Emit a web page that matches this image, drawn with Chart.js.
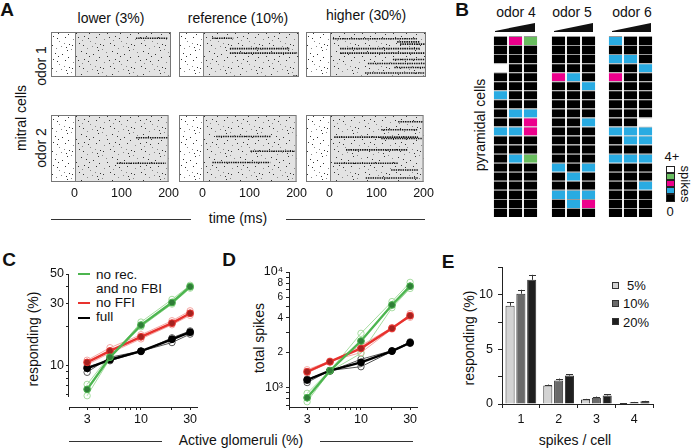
<!DOCTYPE html>
<html>
<head>
<meta charset="utf-8">
<script src="https://cdn.jsdelivr.net/npm/chart.js@4.4.1/dist/chart.umd.min.js"></script>
<style>
  body { margin: 0; background: #fff; }
  #fig { position: relative; width: 691px; height: 448px; overflow: hidden;
         font-family: 'Liberation Sans', Arial, sans-serif; color: #111; }
  canvas { position: absolute; }
  .t { position: absolute; white-space: nowrap; line-height: 1; transform: translate(-50%, -50%); }
  .l { position: absolute; white-space: nowrap; line-height: 1; transform: translate(0, -50%); }
  .up { transform: translate(-50%, -50%) rotate(-90deg); }
  .down { transform: translate(-50%, -50%) rotate(90deg); }
  .big { font-weight: bold; font-size: 19px; }
  .rule { position: absolute; height: 1px; background: #333; }
  .wedge { position: absolute; height: 9px; background: #111; clip-path: polygon(0 88%, 100% 0, 100% 100%, 0 100%); }
  .key { position: absolute; width: 7px; height: 7px; border: 1px solid #333; box-sizing: border-box; }
  .bar { position: absolute; width: 9px; height: 7px; box-sizing: border-box; border: 1px solid #222; }
</style>
</head>
<body>
<div id="fig">
  <!-- panel A -->
  <div class="t big" style="left:7px;top:9px">A</div>
  <div class="t" style="left:111px;top:18px;font-size:14px">lower (3%)</div>
  <div class="t" style="left:238px;top:18px;font-size:14px">reference (10%)</div>
  <div class="t" style="left:366px;top:15px;font-size:14px">higher (30%)</div>
  <div class="t up" style="left:21px;top:118px;font-size:14px">mitral cells</div>
  <div class="t up" style="left:41px;top:66px;font-size:14px">odor 1</div>
  <div class="t up" style="left:41px;top:148px;font-size:14px">odor 2</div>
  <div class="t" style="left:238px;top:218px;font-size:14px">time (ms)</div>
  <div class="rule" style="left:51px;top:219px;width:140px"></div>
  <div class="rule" style="left:286px;top:219px;width:139px"></div>

  <!-- panel B -->
  <div class="t big" style="left:462px;top:9px">B</div>
  <div class="t" style="left:516px;top:12px;font-size:14px">odor 4</div>
  <div class="t" style="left:572px;top:12px;font-size:14px">odor 5</div>
  <div class="t" style="left:632px;top:12px;font-size:14px">odor 6</div>
  <div class="wedge" style="left:495px;top:23px;width:40px"></div>
  <div class="wedge" style="left:554px;top:23px;width:39px"></div>
  <div class="wedge" style="left:612px;top:23px;width:39px"></div>
  <div class="t up" style="left:480px;top:125px;font-size:14px">pyramidal cells</div>
  <div class="t" style="left:672px;top:156px;font-size:13px">4+</div>
  <div class="t" style="left:670px;top:211px;font-size:13px">0</div>
  <div class="t down" style="left:685px;top:184px;font-size:13px">spikes</div>
  <div class="bar" style="left:666px;top:166px;background:#fff"></div>
  <div class="bar" style="left:666px;top:173px;background:#69bd5f"></div>
  <div class="bar" style="left:666px;top:180px;background:#ec008c"></div>
  <div class="bar" style="left:666px;top:187px;background:#29abe2"></div>
  <div class="bar" style="left:666px;top:194px;height:8px;background:#000"></div>

  <!-- panel C -->
  <div class="t big" style="left:9px;top:259px">C</div>
  <div class="t up" style="left:33px;top:339px;font-size:14px">responding (%)</div>
  <div class="rule" style="left:78px;top:273px;width:12px;height:2px;background:#4cb54f"></div>
  <div class="l" style="left:96px;top:275px;font-size:13.5px">no rec.</div>
  <div class="l" style="left:96px;top:289px;font-size:13.5px">and no FBI</div>
  <div class="rule" style="left:78px;top:302px;width:12px;height:2px;background:#e8322e"></div>
  <div class="l" style="left:96px;top:303px;font-size:13.5px">no FFI</div>
  <div class="rule" style="left:78px;top:317px;width:12px;height:2px;background:#000"></div>
  <div class="l" style="left:96px;top:317px;font-size:13.5px">full</div>
  <div class="t" style="left:241px;top:440px;font-size:14px">Active glomeruli (%)</div>
  <div class="rule" style="left:69px;top:441px;width:93px"></div>
  <div class="rule" style="left:320px;top:441px;width:93px"></div>

  <!-- panel D -->
  <div class="t big" style="left:229px;top:259px">D</div>
  <div class="t up" style="left:259px;top:338px;font-size:14px">total spikes</div>

  <!-- panel E -->
  <div class="t big" style="left:448px;top:261px">E</div>
  <div class="t up" style="left:469px;top:338px;font-size:14px">responding (%)</div>
  <div class="key" style="left:612px;top:282px;background:#d3d3d3"></div>
  <div class="l" style="left:627px;top:285px;font-size:13px">5%</div>
  <div class="key" style="left:612px;top:300px;background:#6a6a6a"></div>
  <div class="l" style="left:623px;top:303px;font-size:13px">10%</div>
  <div class="key" style="left:612px;top:318px;background:#1f1f1f"></div>
  <div class="l" style="left:623px;top:322px;font-size:13px">20%</div>
  <div class="t" style="left:575px;top:440px;font-size:14px">spikes / cell</div>
</div>

<script>
// ---- A: spike bursts, [cell row (0 top .. 100 bottom), start ms, end ms]
const rasterTicks = [0, 100, 200];
const burstsLowOdor1 = [[14, 127, 194]];
const burstsRefOdor1 = [[14, 19, 63], [37, 56, 181], [47, 56, 196], [98, 188, 198]];
const burstsHighOdor1 = [[15, 6, 181], [22, 140, 188], [27, 146, 198], [37, 21, 188], [47, 21, 198],
                         [61, 131, 198], [70, 79, 198], [79, 134, 198], [91, 73, 198]];
const burstsLowOdor2 = [[34, 131, 198], [72, 90, 194]];
const burstsRefOdor2 = [[32, 29, 146], [54, 102, 196], [71, 21, 144]];
const burstsHighOdor2 = [[10, 146, 198], [22, 110, 188], [33, 10, 188], [35, 110, 198], [52, 35, 167],
                         [72, 10, 146], [82, 131, 188], [94, 77, 188]];

// ---- B: spikes per pyramidal cell (20 cells), three concentrations per odor
const concLevels = ['low', 'mid', 'high'];
const odor4 = [
  [0,0,0,4,0,0,1,0,0,0,1,0,0,0,0,0,0,0,0,0],
  [2,0,0,0,0,0,0,0,1,0,1,0,0,1,0,0,0,0,0,0],
  [3,0,0,0,0,0,0,0,1,2,2,0,0,3,0,0,0,0,0,0]
];
const odor5 = [
  [0,0,0,0,2,0,0,0,0,0,0,0,0,0,1,0,0,1,0,0],
  [0,0,0,0,1,0,0,0,0,0,0,0,0,0,0,1,0,1,1,0],
  [0,0,0,0,0,1,0,0,0,1,0,0,0,0,1,0,0,1,2,0]
];
const odor6 = [
  [1,0,1,0,2,0,0,0,0,0,1,0,0,1,0,0,0,0,0,0],
  [0,0,1,0,0,0,0,0,0,0,1,1,0,1,0,0,0,0,0,0],
  [0,0,0,1,0,0,0,0,0,4,1,1,0,1,0,0,1,0,0,0]
];

// ---- C / D: active glomeruli (%)
const glomeruli = [3, 5, 10, 20, 30];
const glomTicks = [2, 3, 4, 5, 6, 7, 8, 9, 10, 20, 30];
const glomLabels = [3, 10, 30];

const respNoRec = [6.6, 11.6, 20.4, 30.3, 40.0];
const respNoRecRuns = [[5.9, 11.3, 21.5, 32.0, 41.0], [7.2, 12.0, 19.8, 29.5, 39.0]];
const respNoFFI = [10.6, 12.95, 16.6, 21.1, 25.1];
const respNoFFIRuns = [[11.0, 13.7, 17.2, 22.0, 26.2], [10.2, 12.5, 16.0, 20.5, 24.2]];
const respFull = [9.55, 11.1, 12.9, 15.9, 18.0];
const respFullRuns = [[8.9, 11.6, 12.9, 15.0, 17.4], [9.8, 10.9, 12.8, 16.3, 18.4]];
const respTicks = [6, 7, 8, 9, 10, 20, 30, 40, 50];
const respLabels = ['', '', '', '', '10', '', '30', '', '50'];

const spikesNoRec = [812, 1393, 2520, 5180, 7540];
const spikesNoRecRuns = [[887, 1393, 2938, 5540, 8130], [750, 1380, 1970, 4900, 7200]];
const spikesNoFFI = [1365, 1667, 2178, 3248, 4180];
const spikesNoFFIRuns = [[1420, 1690, 2000, 3200, 4350], [1330, 1650, 2300, 3300, 4050]];
const spikesFull = [1157, 1393, 1647, 2063, 2436];
const spikesFullRuns = [[1100, 1400, 1509, 2050, 2400], [1180, 1380, 1750, 2080, 2480]];
const spikeTicks = [700, 800, 900, 1000, 2000, 3000, 4000, 5000, 6000, 7000, 8000, 9000, 10000];
const spikeLabels = ['', '', '', '10\u00b3', '2', '', '4', '', '6', '', '8', '', '10\u2074'];

// ---- E: responding (%) by spikes per cell
const spikesPerCell = ['1', '2', '3', '4'];
const resp5 = [9.0, 1.69, 0.41, 0.07];
const resp10 = [10.1, 2.15, 0.57, 0.16];
const resp20 = [11.37, 2.6, 0.78, 0.26];
const err5 = [0.33, 0.09, 0.06, 0.02];
const err10 = [0.36, 0.18, 0.11, 0.03];
const err20 = [0.46, 0.12, 0.09, 0.03];
const respETicks = [0, 2.5, 5, 7.5, 10, 12.5];
const respELabels = ['0', '', '5', '', '10', ''];

Chart.defaults.font.family = "'Liberation Sans', Arial, sans-serif";
Chart.defaults.font.size = 12;
Chart.defaults.color = '#111';
Chart.defaults.animation = false;
Chart.defaults.responsive = false;
Chart.defaults.devicePixelRatio = 1;
Chart.defaults.events = [];
Chart.defaults.plugins.legend.display = false;
Chart.defaults.plugins.tooltip.enabled = false;

const fig = document.getElementById('fig');
function mk(left, top, w, h) {
  const c = document.createElement('canvas');
  c.width = w; c.height = h;
  c.style.left = left + 'px'; c.style.top = top + 'px';
  fig.appendChild(c);
  return c;
}

// speckle texture for the raster background (just a look, not data)
const speckTile = document.createElement('canvas');
speckTile.width = 31; speckTile.height = 23;
(function () {
  const t = speckTile.getContext('2d');
  const dots = [[1,2],[6,9],[11,4],[17,1],[23,7],[28,3],[3,15],[9,19],[14,12],[20,17],[26,13],[30,20],
                [5,5],[13,21],[19,9],[25,19],[8,13],[16,6],[22,22],[29,10],[2,21],[12,16],[27,0],[18,14]];
  dots.forEach((d, i) => { t.fillStyle = i % 3 ? '#333' : '#888'; t.fillRect(d[0], d[1], 1, 1); });
})();

const rasterBg = {
  id: 'rasterBg',
  beforeDatasetsDraw(chart) {
    const { ctx, chartArea: a, scales: { x } } = chart;
    const x0 = Math.round(x.getPixelForValue(0));
    ctx.save();
    ctx.fillStyle = '#fff';
    ctx.fillRect(a.left, a.top, x0 - a.left, a.height);
    ctx.fillStyle = '#e3e3e3';
    ctx.fillRect(x0, a.top, a.right - x0, a.height);
    ctx.fillStyle = ctx.createPattern(speckTile, 'repeat');
    ctx.fillRect(a.left, a.top, a.width, a.height);
    ctx.strokeStyle = '#808080';
    ctx.beginPath(); ctx.moveTo(x0 + 0.5, a.top); ctx.lineTo(x0 + 0.5, a.bottom); ctx.stroke();
    ctx.restore();
  },
  afterDatasetsDraw(chart) {
    const { ctx, chartArea: a } = chart;
    ctx.save();
    ctx.strokeStyle = '#777';
    ctx.strokeRect(a.left + 0.5, a.top + 0.5, a.width - 1, a.height - 1);
    ctx.restore();
  }
};

function raster(boxLeft, boxTop, bursts, withTicks) {
  new Chart(mk(boxLeft - 12, boxTop - 8, 144, withTicks ? 97 : 83), {
    type: 'line',
    data: {
      datasets: bursts.map(b => ({
        data: [{ x: b[1], y: b[0] }, { x: b[2], y: b[0] }],
        borderColor: '#111', borderWidth: 1.6, borderDash: [1.4, 0.9], pointRadius: 0
      }))
    },
    options: {
      layout: { padding: { left: 12, right: 12, top: 8, bottom: withTicks ? 0 : 8 } },
      scales: {
        x: { type: 'linear', min: -50, max: 200, display: withTicks,
             afterFit: s => { s.height = 22; },
             afterBuildTicks: s => { s.ticks = rasterTicks.map(v => ({ value: v })); },
             grid: { display: false, drawTicks: false, tickLength: 0 }, border: { display: false },
             ticks: { padding: 4, font: { size: 12.5 }, maxRotation: 0, autoSkip: false } },
        y: { type: 'linear', min: 0, max: 100, reverse: true, display: false }
      }
    },
    plugins: [rasterBg]
  });
}

raster(51, 32, burstsLowOdor1, false);
raster(179, 32, burstsRefOdor1, false);
raster(306, 32, burstsHighOdor1, false);
raster(51, 115, burstsLowOdor2, true);
raster(179, 115, burstsRefOdor2, true);
raster(306, 115, burstsHighOdor2, true);

// ---- B grids
const cellColors = ['#000000', '#29abe2', '#ec008c', '#69bd5f', '#ffffff'];
function cellGrid(left, counts) {
  new Chart(mk(left, 36, 45, 181), {
    type: 'bar',
    data: {
      labels: concLevels,
      datasets: counts[0].map((_, r) => ({
        data: counts.map(() => [r, r + 1]),
        backgroundColor: counts.map(col => cellColors[col[r]]),
        borderColor: '#9a9a9a',
        borderWidth: { top: 1, right: 0, bottom: 0, left: 0 },
        borderSkipped: false, grouped: false,
        barPercentage: 0.9, categoryPercentage: 1
      }))
    },
    options: {
      layout: { padding: 0 },
      scales: { x: { display: false }, y: { display: false, min: 0, max: 20, reverse: true } }
    }
  });
}
cellGrid(493, odor4);
cellGrid(551, odor5);
cellGrid(608, odor6);

// ---- C / D
function pts(vals) { return vals.map((v, i) => ({ x: glomeruli[i], y: v })); }
function condSets(mean, runs, line, fill, pale, order) {
  const sets = runs.map(r => ({
    data: pts(r), borderColor: pale, borderWidth: 1, pointRadius: 3.2,
    pointBackgroundColor: 'rgba(255,255,255,0)', pointBorderColor: pale, pointBorderWidth: 1, order: order + 3
  }));
  sets.push({
    data: pts(mean), borderColor: line, borderWidth: 2.4, pointRadius: 3.4,
    pointBackgroundColor: fill, pointBorderColor: line, pointBorderWidth: 1, order: order
  });
  return sets;
}
function glomX() {
  return {
    type: 'logarithmic', min: 2, max: 35,
    afterFit: s => { s.height = 22; },
    afterBuildTicks: s => { s.ticks = glomTicks.map(v => ({ value: v })); },
    grid: { drawOnChartArea: false, tickLength: 3, tickColor: '#222' },
    border: { color: '#222' },
    ticks: { padding: 2, autoSkip: false, maxRotation: 0, font: { size: 12.5 },
             callback: v => glomLabels.includes(v) ? String(v) : '' }
  };
}
const offsetAxis = {
  id: 'offsetAxis',
  afterDraw(chart, args, opts) {
    const { ctx, chartArea: a } = chart;
    const x = Math.round(a.left) - 0.5;
    ctx.save();
    ctx.strokeStyle = '#222'; ctx.lineWidth = 1;
    ctx.beginPath(); ctx.moveTo(x, a.top); ctx.lineTo(x, a.bottom - opts.gap); ctx.stroke();
    ctx.restore();
  }
};

new Chart(mk(29, 262, 180, 167), {
  type: 'line',
  data: {
    datasets: [
      ...condSets(respNoRec, respNoRecRuns, '#4cb54f', '#2f7d37', '#a6dca0', 0),
      ...condSets(respNoFFI, respNoFFIRuns, '#e8322e', '#a4221f', '#f4a6a3', 1),
      ...condSets(respFull, respFullRuns, '#000', '#000', '#555', 2)
    ]
  },
  options: {
    layout: { padding: { left: 0, right: 12, top: 12, bottom: 0 } },
    plugins: { offsetAxis: { gap: 10 } },
    scales: {
      x: glomX(),
      y: { type: 'logarithmic', min: 4.84, max: 50,
           afterFit: s => { s.width = 40; },
           afterBuildTicks: s => { s.ticks = respTicks.map(v => ({ value: v })); },
           grid: { drawOnChartArea: false, tickLength: 3, tickColor: '#222' },
           border: { display: false },
           ticks: { padding: 2, autoSkip: false, font: { size: 12.5 },
                    callback: (v, i) => respLabels[i] } }
    }
  },
  plugins: [offsetAxis]
});

new Chart(mk(249, 260, 180, 169), {
  type: 'line',
  data: {
    datasets: [
      ...condSets(spikesNoRec, spikesNoRecRuns, '#4cb54f', '#2f7d37', '#a6dca0', 0),
      ...condSets(spikesNoFFI, spikesNoFFIRuns, '#e8322e', '#a4221f', '#f4a6a3', 1),
      ...condSets(spikesFull, spikesFullRuns, '#000', '#000', '#555', 2)
    ]
  },
  options: {
    layout: { padding: { left: 0, right: 12, top: 12, bottom: 0 } },
    scales: {
      x: glomX(),
      y: { type: 'logarithmic', min: 675, max: 10000,
           afterFit: s => { s.width = 40; },
           afterBuildTicks: s => { s.ticks = spikeTicks.map(v => ({ value: v })); },
           grid: { drawOnChartArea: false, tickLength: 3, tickColor: '#222' },
           border: { color: '#222' },
           ticks: { padding: 3, autoSkip: false,
                    font: c => ({ size: c.tick && (c.tick.value === 1000 || c.tick.value === 10000) ? 12.5 : 10 }),
                    callback: (v, i) => spikeLabels[i] } }
    }
  }
});

// ---- E
const errorBars = {
  id: 'errorBars',
  afterDatasetsDraw(chart) {
    const { ctx, scales: { y } } = chart;
    ctx.save();
    ctx.strokeStyle = '#333'; ctx.lineWidth = 1;
    chart.data.datasets.forEach((ds, i) => {
      chart.getDatasetMeta(i).data.forEach((bar, j) => {
        const top = y.getPixelForValue(ds.data[j] + ds.errors[j]);
        const x = Math.round(bar.x) + 0.5;
        ctx.beginPath();
        ctx.moveTo(x, bar.y); ctx.lineTo(x, top);
        ctx.moveTo(x - 3.5, Math.round(top) + 0.5); ctx.lineTo(x + 3.5, Math.round(top) + 0.5);
        ctx.stroke();
      });
    });
    ctx.restore();
  }
};

new Chart(mk(472, 255, 193, 171), {
  type: 'bar',
  data: {
    labels: spikesPerCell,
    datasets: [
      { data: resp5, errors: err5, backgroundColor: '#d3d3d3' },
      { data: resp10, errors: err10, backgroundColor: '#6a6a6a' },
      { data: resp20, errors: err20, backgroundColor: '#1f1f1f' }
    ]
  },
  options: {
    layout: { padding: { left: 0, right: 12, top: 12, bottom: 0 } },
    datasets: { bar: { categoryPercentage: 0.86, barPercentage: 0.84, borderColor: '#333', borderWidth: 1, borderSkipped: 'start' } },
    scales: {
      x: { afterFit: s => { s.height = 22; },
           grid: { drawOnChartArea: false, offset: true, tickLength: 4, tickColor: '#222' },
           border: { color: '#222' },
           ticks: { padding: 4, font: { size: 12.5 } } },
      y: { min: 0, max: 12.5,
           afterFit: s => { s.width = 30; },
           afterBuildTicks: s => { s.ticks = respETicks.map(v => ({ value: v })); },
           grid: { drawOnChartArea: false, tickLength: 4, tickColor: '#222' },
           border: { color: '#222' },
           ticks: { padding: 5, autoSkip: false, font: { size: 12.5 },
                    callback: (v, i) => respELabels[i] } }
    }
  },
  plugins: [errorBars]
});
</script>
</body>
</html>
